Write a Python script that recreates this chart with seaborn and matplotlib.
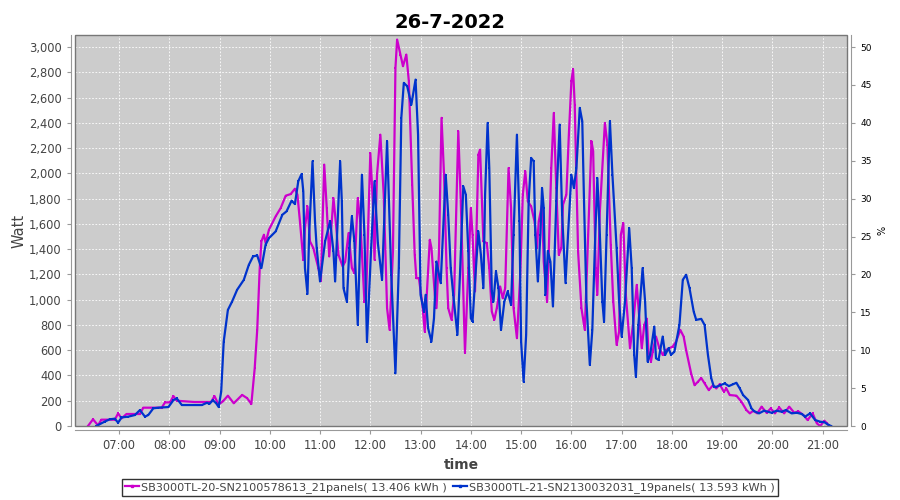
import pandas as pd
import numpy as np
import matplotlib
matplotlib.use('Agg')
from matplotlib import pyplot as plt
import matplotlib.dates as mdates
from matplotlib.lines import Line2D
from matplotlib.patches import Rectangle
import seaborn as sns

# SB3000TL-20 (magenta) - tijd / vermogen in W
t_sb20 = ['06:23', '06:29', '06:35', '06:39', '06:55', '06:59', '07:03', '07:09', '07:25', '07:29',
          '07:51', '07:55', '08:01', '08:05', '08:09', '08:30', '08:50', '08:54', '08:58', '09:01',
          '09:04', '09:10', '09:17', '09:27', '09:33', '09:38', '09:42', '09:45', '09:48', '09:50',
          '09:53', '09:55', '09:59', '10:07', '10:13', '10:19', '10:25', '10:30', '10:33', '10:36',
          '10:40', '10:42', '10:45', '10:48', '10:52', '10:58', '11:01', '11:05', '11:08', '11:11',
          '11:16', '11:19', '11:22', '11:27', '11:30', '11:34', '11:38', '11:41', '11:45', '11:48',
          '11:53', '11:55', '12:00', '12:03', '12:05', '12:08', '12:12', '12:16', '12:20', '12:23',
          '12:27', '12:30', '12:32', '12:36', '12:39', '12:43', '12:46', '12:50', '12:53', '12:55',
          '12:58', '13:02', '13:05', '13:07', '13:11', '13:13', '13:17', '13:19', '13:22', '13:25',
          '13:28', '13:31', '13:33', '13:37', '13:40', '13:45', '13:48', '13:53', '13:57', '14:00',
          '14:02', '14:05', '14:09', '14:11', '14:15', '14:19', '14:22', '14:25', '14:28', '14:31',
          '14:35', '14:38', '14:41', '14:45', '14:48', '14:51', '14:55', '14:59', '15:02', '15:05',
          '15:08', '15:12', '15:16', '15:19', '15:21', '15:25', '15:27', '15:31', '15:33', '15:36',
          '15:39', '15:42', '15:45', '15:48', '15:50', '15:54', '15:57', '16:00', '16:02', '16:04',
          '16:08', '16:12', '16:16', '16:20', '16:24', '16:26', '16:29', '16:31', '16:34', '16:40',
          '16:43', '16:47', '16:50', '16:54', '16:57', '16:59', '17:02', '17:05', '17:10', '17:14',
          '17:18', '17:22', '17:24', '17:27', '17:30', '17:32', '17:35', '17:37', '17:41', '17:45',
          '17:49', '17:53', '17:57', '18:01', '18:05', '18:10', '18:14', '18:17', '18:23', '18:27',
          '18:31', '18:35', '18:39', '18:44', '18:49', '18:53', '18:57', '19:02', '19:05', '19:09',
          '19:17', '19:23', '19:29', '19:33', '19:37', '19:42', '19:47', '19:53', '19:58', '20:03',
          '20:08', '20:14', '20:20', '20:26', '20:31', '20:37', '20:42', '20:48', '20:53', '20:57',
          '21:02', '21:05', '21:08']
w_sb20 = [0, 53, 5, 50, 50, 100, 60, 95, 95, 145,
          145, 187, 187, 237, 200, 190, 190, 237, 180, 180,
          195, 240, 180, 246, 220, 174, 457, 761, 1250, 1461,
          1514, 1448, 1553, 1659, 1725, 1823, 1836, 1878, 1831, 1620,
          1316, 1567, 1738, 1461, 1408, 1250, 1150, 2069, 1725, 1342,
          1804, 1600, 1355, 1263, 1302, 1527, 1250, 1210, 1804, 1620,
          985, 1020, 2161, 1778, 1316, 1989, 2306, 1831, 933, 761,
          1382, 2835, 3059, 2940, 2848, 2940, 2729, 1910, 1355, 1170,
          1170, 972, 748, 985, 1474, 1408, 1038, 933, 1382, 2439,
          1989, 1250, 933, 840, 1038, 2333, 1778, 580, 1250, 1725,
          1514, 1065, 2148, 2188, 1461, 1448, 1250, 906, 840, 933,
          1104, 1012, 1091, 2042, 1725, 933, 695, 1197, 1831, 2016,
          1778, 1738, 1620, 1408, 1620, 1752, 1302, 985, 1382, 2042,
          2478, 1884, 1355, 1408, 1752, 1831, 2306, 2729, 2822, 2544,
          1382, 933, 761, 1514, 2254, 2175, 1250, 1038, 1699, 2399,
          2227, 1435, 985, 642, 748, 1514, 1606, 1038, 616, 827,
          1117, 774, 616, 800, 850, 589, 510, 589, 708, 616,
          563, 602, 616, 629, 668, 761, 708, 600, 415, 323,
          350, 380, 337, 284, 323, 297, 331, 271, 297, 245,
          240, 192, 126, 100, 120, 100, 153, 105, 139, 100,
          147, 100, 153, 105, 115, 87, 47, 100, 21, 0,
          42, 21, 0]

# SB3000TL-21 (blauw)
t_sb21 = ['06:33', '06:43', '06:49', '06:55', '06:59', '07:03', '07:11', '07:19', '07:25', '07:31',
          '07:35', '07:41', '07:47', '07:59', '08:05', '08:09', '08:15', '08:39', '08:45', '08:48',
          '08:52', '08:56', '08:59', '09:02', '09:05', '09:10', '09:15', '09:21', '09:29', '09:35',
          '09:40', '09:45', '09:50', '09:55', '09:59', '10:07', '10:15', '10:20', '10:26', '10:30',
          '10:34', '10:38', '10:40', '10:42', '10:45', '10:47', '10:51', '10:54', '10:56', '11:00',
          '11:06', '11:12', '11:16', '11:18', '11:24', '11:26', '11:28', '11:32', '11:35', '11:38',
          '11:41', '11:45', '11:50', '11:53', '11:56', '12:01', '12:05', '12:09', '12:14', '12:20',
          '12:25', '12:30', '12:34', '12:37', '12:40', '12:44', '12:49', '12:54', '12:57', '13:00',
          '13:04', '13:06', '13:09', '13:13', '13:16', '13:19', '13:24', '13:30', '13:33', '13:36',
          '13:39', '13:44', '13:47', '13:51', '13:54', '13:57', '14:00', '14:02', '14:05', '14:09',
          '14:12', '14:15', '14:17', '14:20', '14:22', '14:25', '14:27', '14:30', '14:33', '14:36',
          '14:40', '14:44', '14:48', '14:51', '14:55', '14:58', '15:00', '15:03', '15:06', '15:09',
          '15:12', '15:15', '15:17', '15:20', '15:23', '15:25', '15:27', '15:29', '15:32', '15:35',
          '15:38', '15:42', '15:46', '15:49', '15:53', '15:56', '16:00', '16:03', '16:06', '16:10',
          '16:13', '16:15', '16:18', '16:22', '16:25', '16:28', '16:31', '16:34', '16:37', '16:39',
          '16:42', '16:46', '16:49', '16:54', '16:57', '17:00', '17:04', '17:09', '17:12', '17:15',
          '17:17', '17:20', '17:25', '17:28', '17:31', '17:34', '17:39', '17:41', '17:44', '17:49',
          '17:52', '17:56', '17:59', '18:03', '18:09', '18:13', '18:17', '18:21', '18:26', '18:29',
          '18:35', '18:39', '18:43', '18:47', '18:50', '18:53', '18:58', '19:03', '19:08', '19:13',
          '19:17', '19:21', '19:25', '19:31', '19:35', '19:38', '19:44', '19:50', '19:59', '20:05',
          '20:11', '20:16', '20:23', '20:29', '20:35', '20:39', '20:45', '20:51', '20:57', '21:02',
          '21:07', '21:10']
w_sb21 = [0, 35, 53, 58, 26, 68, 74, 87, 126, 74,
          87, 140, 145, 150, 205, 218, 166, 166, 184, 175,
          205, 180, 150, 272, 668, 919, 985, 1078, 1157, 1276,
          1342, 1350, 1250, 1435, 1487, 1540, 1672, 1699, 1783, 1757,
          1937, 1995, 1857, 1250, 1045, 1514, 2095, 1620, 1408, 1144,
          1461, 1620, 1382, 1144, 2095, 1778, 1091, 985, 1408, 1659,
          1461, 800, 1989, 1514, 668, 1408, 1937, 1448, 1157, 2254,
          1197, 417, 1250, 2439, 2716, 2690, 2544, 2742, 2306, 1038,
          906, 1038, 774, 668, 853, 1302, 1131, 1989, 1672, 1250,
          1038, 721, 1197, 1897, 1831, 1382, 853, 827, 1144, 1540,
          1355, 1091, 1831, 2399, 2042, 1065, 985, 1223, 1091, 761,
          985, 1065, 959, 1514, 2306, 1620, 668, 351, 721, 1778,
          2122, 2095, 1514, 1144, 1514, 1884, 1725, 1038, 1382, 1300,
          946, 1778, 2386, 1672, 1131, 1514, 1989, 1884, 2042, 2518,
          2412, 1805, 985, 483, 761, 1408, 1963, 1514, 985, 827,
          1514, 2412, 1989, 1408, 985, 708, 985, 1567, 1250, 563,
          391, 800, 1250, 985, 510, 563, 787, 536, 523, 708,
          563, 616, 563, 589, 800, 1157, 1197, 1091, 906, 840,
          848, 800, 563, 378, 312, 310, 323, 337, 316, 330,
          342, 297, 245, 205, 139, 118, 100, 121, 105, 121,
          113, 126, 100, 105, 95, 74, 100, 47, 34, 30,
          8, 0]

series_names = ['SB3000TL-20-SN2100578613_21panels( 13.406 kWh )',
                'SB3000TL-21-SN2130032031_19panels( 13.593 kWh )']
series_colors = ['#cc00cc', '#0033cc']
day = '2022-07-26'

df = pd.concat([
    pd.DataFrame({'time': pd.to_datetime([day + ' ' + s for s in t_sb20]),
                  'watt': w_sb20, 'serie': series_names[0]}),
    pd.DataFrame({'time': pd.to_datetime([day + ' ' + s for s in t_sb21]),
                  'watt': w_sb21, 'serie': series_names[1]}),
])

plt.rcParams['font.family'] = ['DejaVu Sans']

fig = plt.figure(figsize=(9, 5), dpi=100)
ax = fig.add_axes([75 / 900, 1 - 426 / 500, 772 / 900, 391 / 500])
ax.set_facecolor('#cccccc')

sns.lineplot(data=df, x='time', y='watt', hue='serie', palette=series_colors,
             estimator=None, sort=True, linewidth=1.6, marker='s', markersize=1.8,
             markeredgewidth=0, legend=False, ax=ax)

ax.set_xlim(pd.Timestamp(day + ' 06:07:30'), pd.Timestamp(day + ' 21:29'))
ax.set_ylim(0, 3095)
ax.set_yticks(np.arange(0, 3001, 200))
ax.set_yticklabels(['{:,}'.format(v) for v in range(0, 3001, 200)])
ax.xaxis.set_major_locator(mdates.HourLocator(byhour=range(7, 22)))
ax.xaxis.set_major_formatter(mdates.DateFormatter('%H:%M'))

ax.grid(True, color='white', linestyle=(0, (2, 2)), linewidth=0.6)
ax.set_axisbelow(True)

for side in ['top', 'right']:
    ax.spines[side].set_visible(False)
for side in ['left', 'bottom']:
    ax.spines[side].set_position(('outward', 3))
    ax.spines[side].set_color('#999999')
ax.add_patch(Rectangle((0, 0), 1, 1, transform=ax.transAxes, fill=False,
                       edgecolor='#777777', linewidth=1.0, zorder=5, clip_on=False))

ax.tick_params(axis='both', colors='#999999', labelcolor='#444444', labelsize=8.3,
               length=3, width=0.8)
ax.set_xlabel('time', fontsize=10, fontweight='bold', color='#444444', labelpad=4)
ax.set_ylabel('Watt', fontsize=10.5, color='#444444', labelpad=2)

# rechter as in %
ax2 = ax.twinx()
ax2.set_ylim(0, 3095 / 60)
ax2.set_yticks(np.arange(0, 51, 5))
for side in ['top', 'left', 'bottom']:
    ax2.spines[side].set_visible(False)
ax2.spines['right'].set_position(('outward', 3))
ax2.spines['right'].set_color('#999999')
ax2.tick_params(axis='y', colors='#999999', labelcolor='black', labelsize=6.5,
                length=3, width=0.8)
ax2.set_ylabel('%', fontsize=7, color='black', labelpad=4)

fig.suptitle('26-7-2022', x=0.5, y=0.975, fontsize=14, fontweight='bold')

handles = [Line2D([], [], color=c, linewidth=1.6, marker='s', markersize=2)
           for c in series_colors]
leg = fig.legend(handles, series_names, loc='center', bbox_to_anchor=(0.5, 0.025),
                 ncol=2, fontsize=8.1, frameon=True, fancybox=False, edgecolor='black',
                 handlelength=1.2, handletextpad=0.2, columnspacing=0.6,
                 borderpad=0.3, borderaxespad=0)
leg.get_frame().set_linewidth(1.0)
for txt in leg.get_texts():
    txt.set_color('#444444')

fig.savefig('out.png', dpi=100, facecolor='white')
